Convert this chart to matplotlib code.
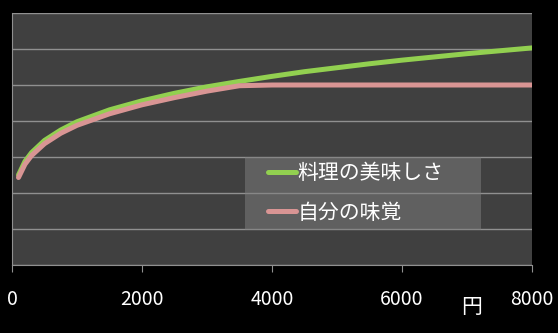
import matplotlib
matplotlib.use("Agg")
import matplotlib.pyplot as plt
import matplotlib.patches as patches

plt.rcParams['font.family'] = ['Noto Sans CJK JP', 'DejaVu Sans']

# values
yen = [100, 200, 300, 500, 750, 1000, 1500, 2000, 2500, 3000, 3500,
       4000, 4500, 5000, 5500, 6000, 6500, 7000, 7500, 8000]
oishisa = [2.50, 2.88, 3.12, 3.46, 3.75, 3.98, 4.31, 4.56, 4.77, 4.95, 5.10,
           5.24, 5.37, 5.48, 5.59, 5.69, 5.78, 5.87, 5.95, 6.03]
mikaku = [2.43, 2.80, 3.04, 3.37, 3.66, 3.88, 4.20, 4.45, 4.65, 4.83, 4.98,
          5.00, 5.00, 5.00, 5.00, 5.00, 5.00, 5.00, 5.00, 5.00]
labels = ['料理の美味しさ', '自分の味覚']
xticks = [0, 2000, 4000, 6000, 8000]

fig = plt.figure(figsize=(5.58, 3.33), dpi=100, facecolor='black')
ax = fig.add_axes([12/558, 1 - 265/333, 520/558, 252/333])
ax.set_facecolor('#404040')

ax.plot(yen, oishisa, color='#92D050', lw=3.6, solid_capstyle='round', label=labels[0])
ax.plot(yen, mikaku, color='#D99594', lw=3.6, solid_capstyle='round', label=labels[1])

ax.set_xlim(0, 8000)
ax.set_ylim(0, 7)
ax.set_yticks(range(0, 8))
ax.set_yticklabels([])
ax.tick_params(axis='y', length=0)
ax.grid(axis='y', color='#909090', lw=1)
ax.set_axisbelow(True)
ax.set_xticks(xticks)
ax.set_xticklabels([str(t) for t in xticks], color='white', fontsize=14)
ax.tick_params(axis='x', colors='#909090', length=5, pad=12, labelcolor='white')

for s in ['top', 'right']:
    ax.spines[s].set_visible(False)
for s in ['left', 'bottom']:
    ax.spines[s].set_color('#909090')

fig.text(472/558, 1 - 307/333, '円', color='white', fontsize=15, ha='center', va='center')

# legend box (semi transparent, gridlines show through)
box = patches.Rectangle((233/520, (265-230)/252), 236/520, 73/252, transform=ax.transAxes,
                        facecolor='#808080', alpha=0.5, lw=0, zorder=4)
ax.add_patch(box)

leg = ax.legend(loc='upper left', bbox_to_anchor=(256/520, (265-162)/252),
                fontsize=15, frameon=False, handlelength=1.35, handletextpad=0.05,
                borderpad=0, labelspacing=0.85, borderaxespad=0)
leg.set_zorder(5)
for t in leg.get_texts():
    t.set_color('white')

fig.savefig('out.png', dpi=100, facecolor='black')
